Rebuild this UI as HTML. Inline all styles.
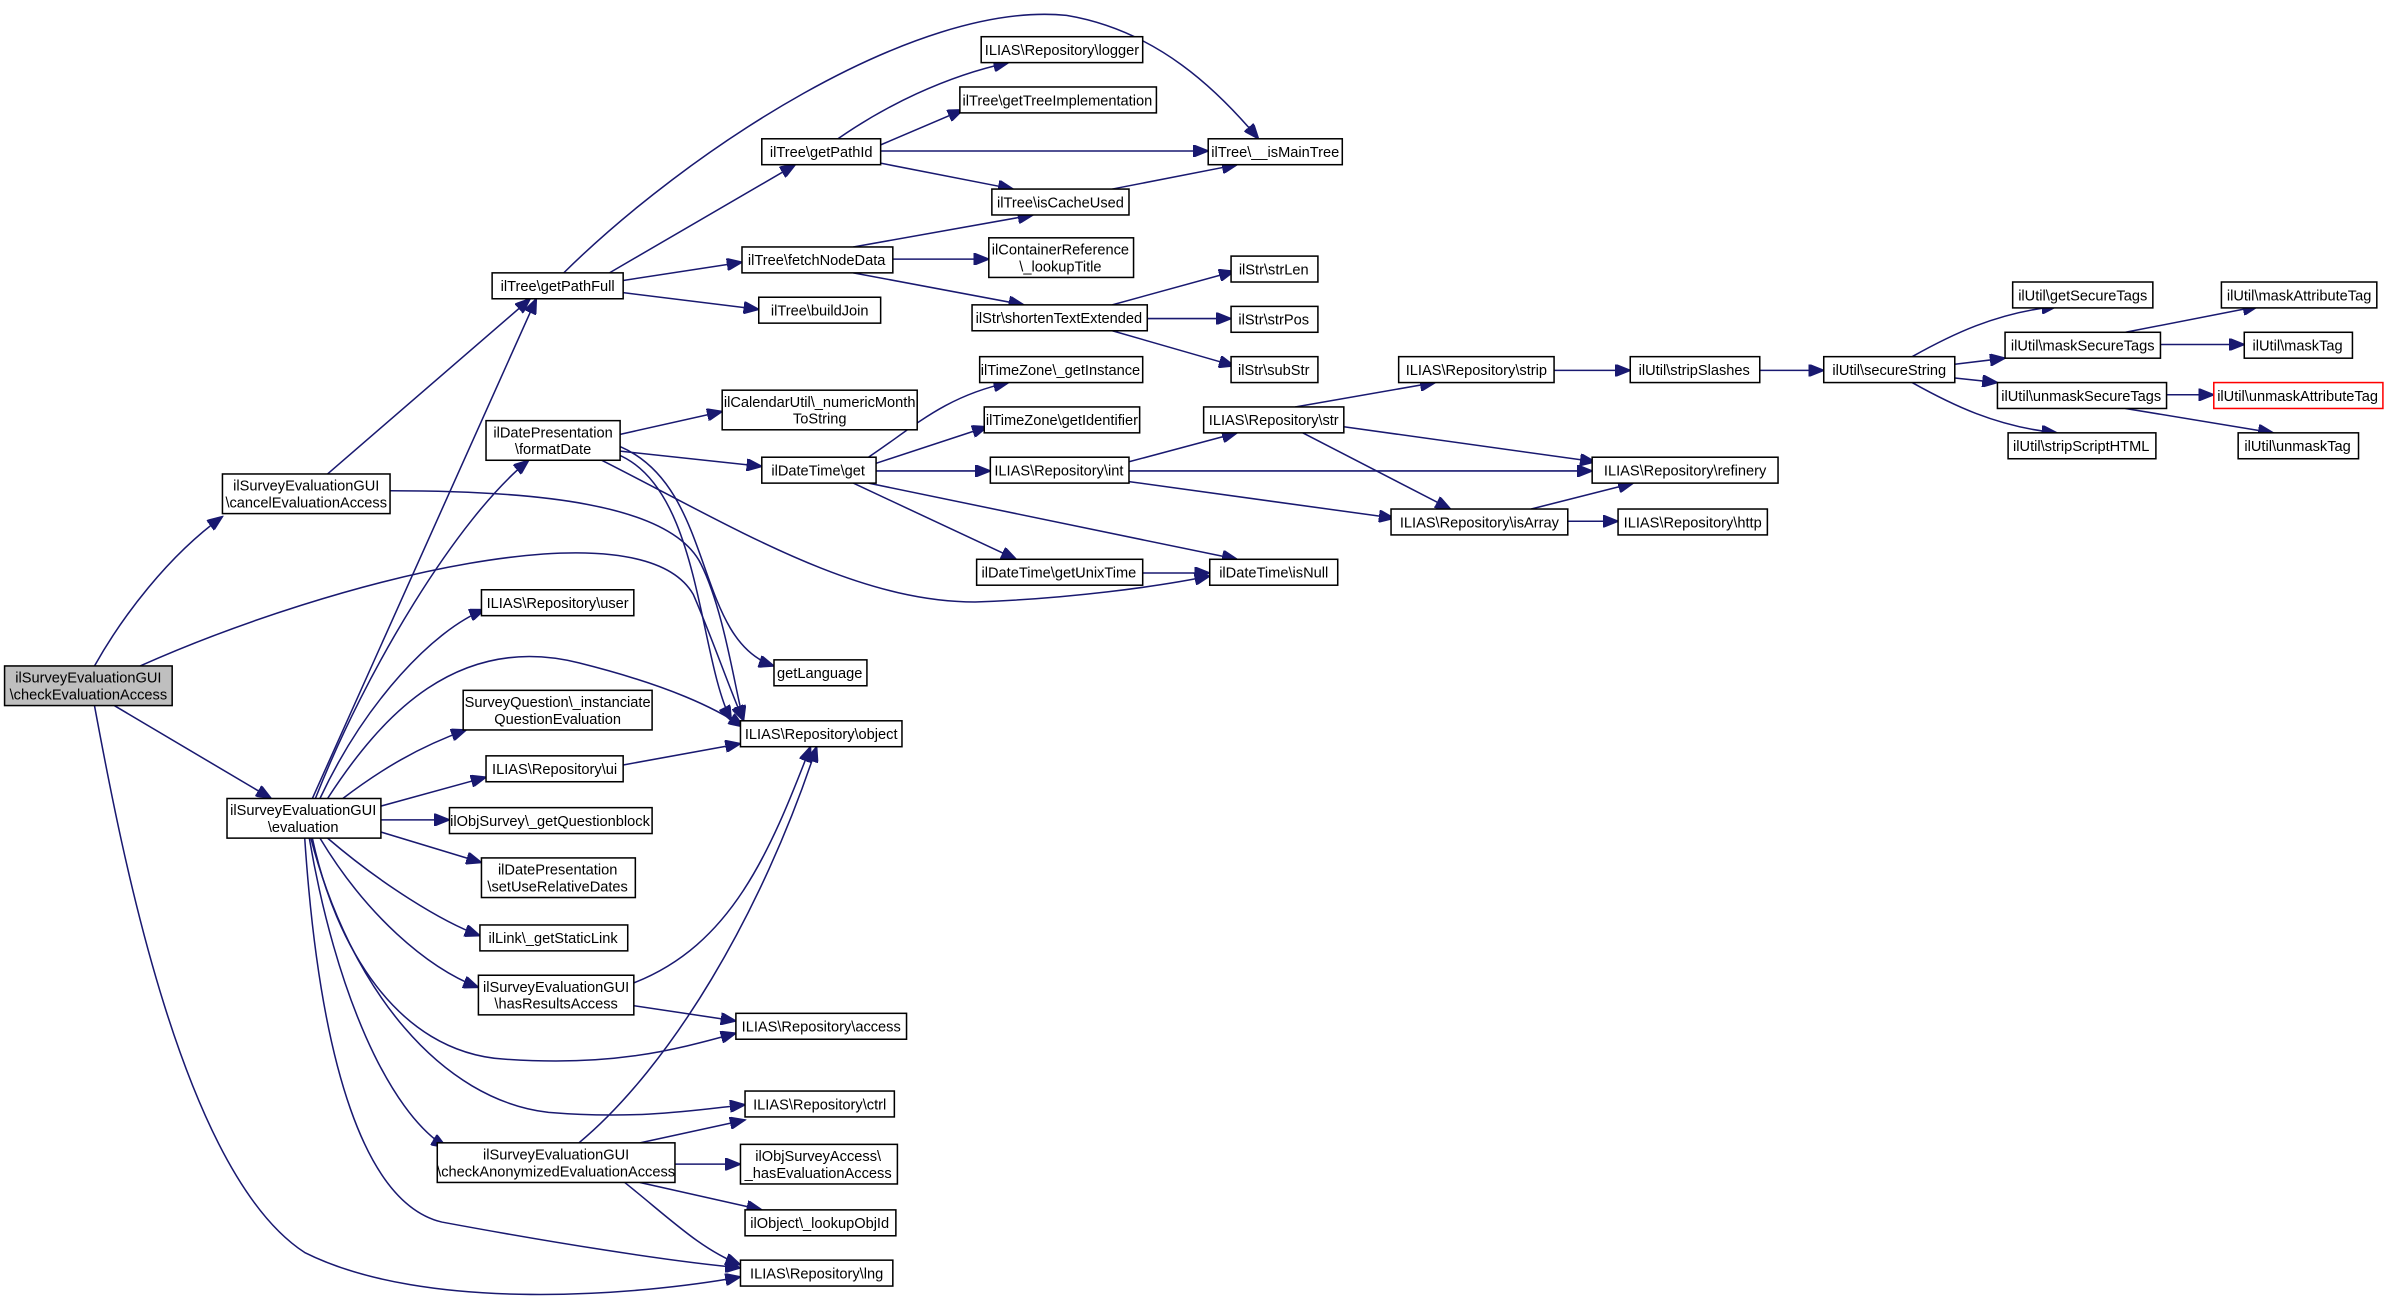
<!DOCTYPE html>
<html><head><meta charset="utf-8"><style>
html,body{margin:0;padding:0;background:#fff;}
svg{display:block;}
text{font-family:"Liberation Sans",sans-serif;font-size:9.6px;fill:#000;text-anchor:middle;}
.n{fill:#fff;stroke:#000;stroke-width:1;}
.e{fill:none;stroke:#191970;stroke-width:1;marker-end:url(#a);}
</style></head><body>
<svg width="2389" height="1306" viewBox="0 0 1568 857" xmlns="http://www.w3.org/2000/svg">
<defs><marker id="a" markerUnits="userSpaceOnUse" markerWidth="11" markerHeight="8" refX="10" refY="4" orient="auto"><path d="M0,0 L10,4 L0,8 Z" fill="#191970" stroke="#191970"/></marker></defs>
<rect width="1568" height="857" fill="#fff"/>
<g>
<path class="e" d="M62,437 C80,405 110,365 146,339"/>
<path class="e" d="M75,463 L178,524"/>
<path class="e" d="M92,437 C220,380 420,330 455,390 C468,420 478,450 488,473"/>
<path class="e" d="M62,463 C80,560 120,770 200,822 C280,862 420,850 486,838"/>
<path class="e" d="M215,311 L348,196"/>
<path class="e" d="M256,322 C350,322 440,330 460,370 C475,400 482,450 488,473"/>
<path class="e" d="M205,524 L352,196"/>
<path class="e" d="M207,524 C240,440 300,340 347,302"/>
<path class="e" d="M210,524 C240,460 285,413 318,400"/>
<path class="e" d="M215,524 C250,470 300,415 380,435 C440,450 470,465 488,477"/>
<path class="e" d="M225,524 C250,505 275,490 306,479"/>
<path class="e" d="M250,529 L319,510"/>
<path class="e" d="M250,538 L295,538"/>
<path class="e" d="M250,546 L316,566"/>
<path class="e" d="M215,550 C250,580 290,605 315,614"/>
<path class="e" d="M210,550 C240,600 280,635 314,648"/>
<path class="e" d="M205,550 C220,620 260,690 330,695 C400,700 440,690 483,678"/>
<path class="e" d="M204,550 C230,650 290,722 360,730 C420,735 460,728 489,725"/>
<path class="e" d="M203,550 C220,650 255,730 293,753"/>
<path class="e" d="M200,550 C210,700 240,790 290,802 C360,815 440,828 486,832"/>
<path class="e" d="M370,179 C450,100 600,0 700,10 C760,20 800,60 826,91"/>
<path class="e" d="M400,179 L522,108"/>
<path class="e" d="M409,184 L487,172"/>
<path class="e" d="M409,192 L498,203"/>
<path class="e" d="M550,91 C580,70 620,50 662,41"/>
<path class="e" d="M578,95 L632,72"/>
<path class="e" d="M578,99 L793,99"/>
<path class="e" d="M578,107 L665,124"/>
<path class="e" d="M730,124 L812,108"/>
<path class="e" d="M560,162 L678,141"/>
<path class="e" d="M586,170 L649,170"/>
<path class="e" d="M560,179 L672,200"/>
<path class="e" d="M730,200 L810,178"/>
<path class="e" d="M753,209 L808,209"/>
<path class="e" d="M730,217 L810,240"/>
<path class="e" d="M407,285 L474,270"/>
<path class="e" d="M407,296 L500,306"/>
<path class="e" d="M395,302 C480,345 560,395 640,395 C700,393 760,385 794,378"/>
<path class="e" d="M407,293 C470,320 455,420 508,437"/>
<path class="e" d="M405,298 C460,320 458,430 480,473"/>
<path class="e" d="M570,300 C600,280 620,260 662,251"/>
<path class="e" d="M575,304 L648,280"/>
<path class="e" d="M575,309 L650,309"/>
<path class="e" d="M560,317 L667,367"/>
<path class="e" d="M570,317 L812,367"/>
<path class="e" d="M750,376 L794,376"/>
<path class="e" d="M741,303 L812,284"/>
<path class="e" d="M741,309 L1045,309"/>
<path class="e" d="M741,316 L915,340"/>
<path class="e" d="M850,267 L942,251"/>
<path class="e" d="M882,280 L1047,303"/>
<path class="e" d="M855,284 L952,334"/>
<path class="e" d="M1020,243 L1070,243"/>
<path class="e" d="M1155,243 L1197,243"/>
<path class="e" d="M1005,334 L1072,317"/>
<path class="e" d="M1029,342 L1062,342"/>
<path class="e" d="M1255,234 C1280,220 1310,205 1350,201"/>
<path class="e" d="M1283,239 L1316,235"/>
<path class="e" d="M1283,248 L1311,251"/>
<path class="e" d="M1255,251 C1280,265 1310,280 1350,284"/>
<path class="e" d="M1395,218 L1482,201"/>
<path class="e" d="M1418,226 L1473,226"/>
<path class="e" d="M1422,259 L1453,259"/>
<path class="e" d="M1395,268 L1492,284"/>
<path class="e" d="M416,645 C480,620 505,560 532,490"/>
<path class="e" d="M416,660 L483,670"/>
<path class="e" d="M380,750 C440,700 500,600 536,490"/>
<path class="e" d="M420,750 L489,735"/>
<path class="e" d="M443,764 L486,764"/>
<path class="e" d="M420,776 L500,794"/>
<path class="e" d="M410,776 C440,800 460,820 486,830"/>
<path class="e" d="M409,502 L486,488"/>
</g>
<g>
<rect x="3" y="437" width="110" height="26" fill="#bfbfbf" stroke="#000"/><text x="58" y="448">ilSurveyEvaluationGUI</text><text x="58" y="459">\checkEvaluationAccess</text>
<rect class="n" x="146" y="311" width="110" height="26"/><text x="201" y="322">ilSurveyEvaluationGUI</text><text x="201" y="333">\cancelEvaluationAccess</text>
<rect class="n" x="149" y="524" width="101" height="26"/><text x="199" y="535">ilSurveyEvaluationGUI</text><text x="199" y="546">\evaluation</text>
<rect class="n" x="323" y="179" width="86" height="17"/><text x="366" y="191">ilTree\getPathFull</text>
<rect class="n" x="319" y="276" width="88" height="26"/><text x="363" y="287">ilDatePresentation</text><text x="363" y="298">\formatDate</text>
<rect class="n" x="316" y="387" width="100" height="17"/><text x="366" y="399">ILIAS\Repository\user</text>
<rect class="n" x="304" y="453" width="124" height="26"/><text x="366" y="464">SurveyQuestion\_instanciate</text><text x="366" y="475">QuestionEvaluation</text>
<rect class="n" x="319" y="496" width="90" height="17"/><text x="364" y="508">ILIAS\Repository\ui</text>
<rect class="n" x="295" y="530" width="133" height="17"/><text x="361" y="542">ilObjSurvey\_getQuestionblock</text>
<rect class="n" x="316" y="563" width="101" height="26"/><text x="366" y="574">ilDatePresentation</text><text x="366" y="585">\setUseRelativeDates</text>
<rect class="n" x="315" y="607" width="97" height="17"/><text x="363" y="619">ilLink\_getStaticLink</text>
<rect class="n" x="314" y="640" width="102" height="26"/><text x="365" y="651">ilSurveyEvaluationGUI</text><text x="365" y="662">\hasResultsAccess</text>
<rect class="n" x="287" y="750" width="156" height="26"/><text x="365" y="761">ilSurveyEvaluationGUI</text><text x="365" y="772">\checkAnonymizedEvaluationAccess</text>
<rect class="n" x="644" y="24" width="106" height="17"/><text x="697" y="36">ILIAS\Repository\logger</text>
<rect class="n" x="630" y="57" width="129" height="17"/><text x="694" y="69">ilTree\getTreeImplementation</text>
<rect class="n" x="500" y="91" width="78" height="17"/><text x="539" y="103">ilTree\getPathId</text>
<rect class="n" x="793" y="91" width="88" height="17"/><text x="837" y="103">ilTree\__isMainTree</text>
<rect class="n" x="651" y="124" width="90" height="17"/><text x="696" y="136">ilTree\isCacheUsed</text>
<rect class="n" x="487" y="162" width="99" height="17"/><text x="536" y="174">ilTree\fetchNodeData</text>
<rect class="n" x="649" y="156" width="95" height="26"/><text x="696" y="167">ilContainerReference</text><text x="696" y="178">\_lookupTitle</text>
<rect class="n" x="498" y="195" width="80" height="17"/><text x="538" y="207">ilTree\buildJoin</text>
<rect class="n" x="638" y="200" width="115" height="17"/><text x="695" y="212">ilStr\shortenTextExtended</text>
<rect class="n" x="808" y="168" width="57" height="17"/><text x="836" y="180">ilStr\strLen</text>
<rect class="n" x="808" y="201" width="57" height="17"/><text x="836" y="213">ilStr\strPos</text>
<rect class="n" x="808" y="234" width="57" height="17"/><text x="836" y="246">ilStr\subStr</text>
<rect class="n" x="474" y="256" width="128" height="26"/><text x="538" y="267">ilCalendarUtil\_numericMonth</text><text x="538" y="278">ToString</text>
<rect class="n" x="643" y="234" width="107" height="17"/><text x="696" y="246">ilTimeZone\_getInstance</text>
<rect class="n" x="646" y="267" width="102" height="17"/><text x="697" y="279">ilTimeZone\getIdentifier</text>
<rect class="n" x="500" y="300" width="75" height="17"/><text x="537" y="312">ilDateTime\get</text>
<rect class="n" x="650" y="300" width="91" height="17"/><text x="695" y="312">ILIAS\Repository\int</text>
<rect class="n" x="790" y="267" width="92" height="17"/><text x="836" y="279">ILIAS\Repository\str</text>
<rect class="n" x="641" y="367" width="109" height="17"/><text x="695" y="379">ilDateTime\getUnixTime</text>
<rect class="n" x="794" y="367" width="84" height="17"/><text x="836" y="379">ilDateTime\isNull</text>
<rect class="n" x="508" y="433" width="61" height="17"/><text x="538" y="445">getLanguage</text>
<rect class="n" x="486" y="473" width="106" height="17"/><text x="539" y="485">ILIAS\Repository\object</text>
<rect class="n" x="483" y="665" width="112" height="17"/><text x="539" y="677">ILIAS\Repository\access</text>
<rect class="n" x="489" y="716" width="98" height="17"/><text x="538" y="728">ILIAS\Repository\ctrl</text>
<rect class="n" x="486" y="751" width="103" height="26"/><text x="537" y="762">ilObjSurveyAccess\</text><text x="537" y="773">_hasEvaluationAccess</text>
<rect class="n" x="489" y="794" width="99" height="17"/><text x="538" y="806">ilObject\_lookupObjId</text>
<rect class="n" x="486" y="827" width="100" height="17"/><text x="536" y="839">ILIAS\Repository\lng</text>
<rect class="n" x="918" y="234" width="102" height="17"/><text x="969" y="246">ILIAS\Repository\strip</text>
<rect class="n" x="1070" y="234" width="85" height="17"/><text x="1112" y="246">ilUtil\stripSlashes</text>
<rect class="n" x="1197" y="234" width="86" height="17"/><text x="1240" y="246">ilUtil\secureString</text>
<rect class="n" x="1045" y="300" width="122" height="17"/><text x="1106" y="312">ILIAS\Repository\refinery</text>
<rect class="n" x="913" y="334" width="116" height="17"/><text x="971" y="346">ILIAS\Repository\isArray</text>
<rect class="n" x="1062" y="334" width="98" height="17"/><text x="1111" y="346">ILIAS\Repository\http</text>
<rect class="n" x="1321" y="185" width="92" height="17"/><text x="1367" y="197">ilUtil\getSecureTags</text>
<rect class="n" x="1316" y="218" width="102" height="17"/><text x="1367" y="230">ilUtil\maskSecureTags</text>
<rect class="n" x="1311" y="251" width="111" height="17"/><text x="1366" y="263">ilUtil\unmaskSecureTags</text>
<rect class="n" x="1318" y="284" width="97" height="17"/><text x="1366" y="296">ilUtil\stripScriptHTML</text>
<rect class="n" x="1458" y="185" width="102" height="17"/><text x="1509" y="197">ilUtil\maskAttributeTag</text>
<rect class="n" x="1473" y="218" width="71" height="17"/><text x="1508" y="230">ilUtil\maskTag</text>
<rect x="1453" y="251" width="111" height="17" fill="#fff" stroke="#ff0000"/><text x="1508" y="263">ilUtil\unmaskAttributeTag</text>
<rect class="n" x="1469" y="284" width="79" height="17"/><text x="1508" y="296">ilUtil\unmaskTag</text>
</g>
</svg>
</body></html>
